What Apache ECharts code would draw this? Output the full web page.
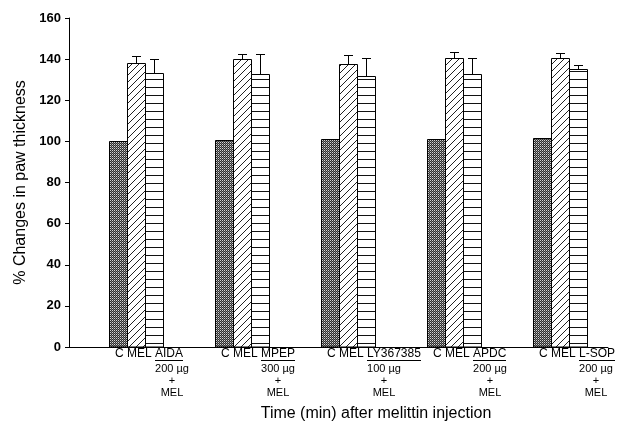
<!DOCTYPE html>
<html>
<head>
<meta charset="utf-8">
<script src="https://cdn.jsdelivr.net/npm/echarts@6/dist/echarts.min.js"></script>
<style>
  html, body { margin: 0; padding: 0; background: #fff; }
  #main { width: 628px; height: 424px; }
</style>
</head>
<body>
<div id="main"></div>
<script>
// data
var treatments = ['AIDA', 'MPEP', 'LY367385', 'APDC', 'L-SOP'];
var doses = ['200 \u00b5g', '300 \u00b5g', '100 \u00b5g', '200 \u00b5g', '200 \u00b5g'];
var controlVals = [100, 100.5, 101, 101.2, 101.8];
var melVals = [138.3, 139.9, 137.5, 140.5, 140.7];
var melErr = [3.4, 2.4, 4.3, 3.0, 2.3];
var treatVals = [133.4, 132.6, 132.0, 132.9, 135.0];
var treatErr = [6.8, 9.7, 8.7, 7.8, 2.0];

var FONT = 'Liberation Sans, Arial, sans-serif';

// texture fills
function makeTile(w, h, draw) {
  var c = document.createElement('canvas');
  c.width = w; c.height = h;
  var ctx = c.getContext('2d');
  ctx.fillStyle = '#fff';
  ctx.fillRect(0, 0, w, h);
  draw(ctx);
  return { image: c, repeat: 'repeat' };
}
var crossFill = makeTile(2, 2, function (ctx) {
  ctx.fillStyle = '#2e2e2e';
  ctx.fillRect(0, 0, 2, 2);
  ctx.fillStyle = '#d4d4d4';
  ctx.fillRect(0, 0, 1, 1);
  ctx.fillStyle = '#7a7a7a';
  ctx.fillRect(1, 1, 1, 1);
});
var diagFill = makeTile(7, 7, function (ctx) {
  ctx.strokeStyle = '#222';
  ctx.lineWidth = 1;
  ctx.beginPath();
  ctx.moveTo(-1, 8); ctx.lineTo(8, -1);
  ctx.stroke();
});
var hFill = makeTile(8, 8, function (ctx) {
  ctx.fillStyle = '#111';
  ctx.fillRect(0, 7, 8, 1);
});

var BW = 18; // bar width px

function pxRect(x, y, w, h) {
  return { type: 'rect', shape: { x: x, y: y, width: w, height: h }, style: { fill: '#000' } };
}

function barRenderer(offset, fill, errs) {
  return function (params, api) {
    var i = api.value(0), v = api.value(1);
    var base = api.coord([i, 0]);
    var top = api.coord([i, v]);
    var cx = Math.round(base[0] + offset);
    var x0 = cx - BW / 2 + 0.5;
    var y0 = Math.round(top[1]) + 0.5;
    var children = [{
      type: 'rect',
      shape: { x: x0, y: y0, width: BW, height: base[1] - y0 },
      style: { fill: fill, stroke: '#000', lineWidth: 1 }
    }];
    if (errs) {
      var e = api.coord([i, v + errs[params.dataIndex]]);
      var ey = Math.round(e[1]);
      children.push(pxRect(cx, ey, 1, Math.round(top[1]) - ey));
      children.push(pxRect(cx - 4, ey, 9, 1));
    }
    return { type: 'group', children: children };
  };
}

var measureCtx = document.createElement('canvas').getContext('2d');
function textWidth(t, size) {
  measureCtx.font = size + 'px ' + FONT;
  return measureCtx.measureText(t).width;
}

function labelRenderer(params, api) {
  var i = params.dataIndex;
  var base = api.coord([api.value(0), 0]);
  var gx = base[0];
  var x0 = Math.round(gx - 21);
  var head = 'C MEL ';
  var tx = x0 + textWidth(head, 12);
  var tw = textWidth(treatments[i], 12);
  var dw = textWidth(doses[i], 11);
  var dc = tx + dw / 2;
  var y1 = base[1] + 7;
  return {
    type: 'group',
    children: [
      { type: 'text', x: x0, y: y1, style: { text: head, font: '12px ' + FONT, fill: '#000', align: 'left', verticalAlign: 'middle' } },
      { type: 'text', x: tx, y: y1, style: { text: treatments[i], font: '12px ' + FONT, fill: '#000', align: 'left', verticalAlign: 'middle' } },
      pxRect(Math.round(tx), Math.round(y1 + 6), Math.round(tw), 1),
      { type: 'text', x: tx, y: base[1] + 22, style: { text: doses[i], font: '11px ' + FONT, fill: '#000', align: 'left', verticalAlign: 'middle' } },
      { type: 'text', x: dc, y: base[1] + 34, style: { text: '+', font: '11px ' + FONT, fill: '#000', align: 'center', verticalAlign: 'middle' } },
      { type: 'text', x: dc, y: base[1] + 46, style: { text: 'MEL', font: '11px ' + FONT, fill: '#000', align: 'center', verticalAlign: 'middle' } }
    ]
  };
}

function toData(vals) {
  return vals.map(function (v, i) { return [i, v]; });
}

var myChart = echarts.init(document.getElementById('main'));
var option = {
  animation: false,
  backgroundColor: '#fff',
  title: {
    text: 'Time (min) after melittin injection',
    left: 371,
    top: 401,
    textAlign: 'center',
    textStyle: { fontFamily: FONT, fontSize: 16, fontWeight: 'normal', color: '#000' }
  },
  grid: { left: 69, top: 18, right: 20, bottom: 77 },
  xAxis: {
    type: 'value',
    min: -0.63,
    max: 4.45,
    axisLine: { show: true, onZero: false, lineStyle: { color: '#000', width: 1 } },
    axisTick: { show: false },
    axisLabel: { show: false },
    splitLine: { show: false }
  },
  yAxis: {
    type: 'value',
    min: 0,
    max: 160,
    interval: 20,
    name: '% Changes in paw thickness',
    nameLocation: 'middle',
    nameGap: 32,
    nameTextStyle: { fontFamily: FONT, fontSize: 16, color: '#000' },
    axisLine: { show: true, onZero: false, lineStyle: { color: '#000', width: 1 } },
    axisTick: { show: true, inside: false, length: 4, lineStyle: { color: '#000' } },
    axisLabel: { fontFamily: FONT, fontSize: 13, fontWeight: 'bold', color: '#000', margin: 8 },
    splitLine: { show: false }
  },
  series: [
    { name: 'C', type: 'custom', clip: false, renderItem: barRenderer(-BW, crossFill, null), data: toData(controlVals) },
    { name: 'MEL', type: 'custom', clip: false, renderItem: barRenderer(0, diagFill, melErr), data: toData(melVals) },
    { name: 'treatment', type: 'custom', clip: false, renderItem: barRenderer(BW, hFill, treatErr), data: toData(treatVals) },
    { name: 'labels', type: 'custom', clip: false, silent: true, renderItem: labelRenderer, data: toData(treatments.map(function () { return 0; })) }
  ]
};
myChart.setOption(option);
</script>
</body>
</html>
